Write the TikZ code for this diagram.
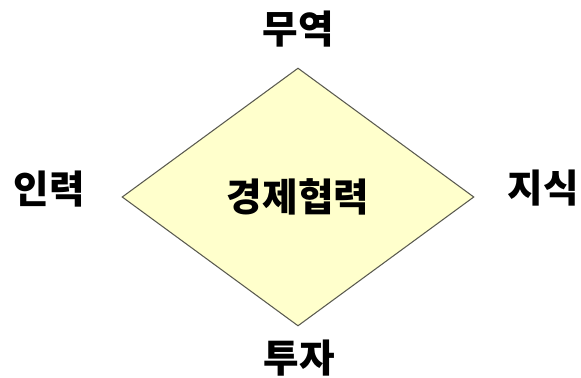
\documentclass[tikz,border=0pt]{standalone}
\usepackage{fontspec}
\newfontfamily\kr{Noto Sans CJK KR}
\usetikzlibrary{shapes.geometric}
\definecolor{pad}{HTML}{FFFFCC}
\definecolor{rim}{HTML}{5A5A50}
\begin{document}
\begin{tikzpicture}[x=0.02cm, y=-0.02cm,
		word/.style={font=\kr\bfseries\fontsize{22}{22}\selectfont, inner sep=0pt}]
			\useasboundingbox (0,0) rectangle (581,378);
			%centre diamond
			\node[diamond, draw=rim, fill=pad, line width=0.6pt, inner sep=0pt,
				minimum width=7.04cm, minimum height=5.16cm, shape aspect=1.364,
				word] (hub) at (298,197){경제협력};
			
			%four sides
			\node[word] (trade) at (298,29){무역};
			\node[word] (labour) at (49,189){인력};
			\node[word] (know) at (543,188){지식};
			\node[word] (invest) at (299,358){투자};
		\end{tikzpicture}
\end{document}
